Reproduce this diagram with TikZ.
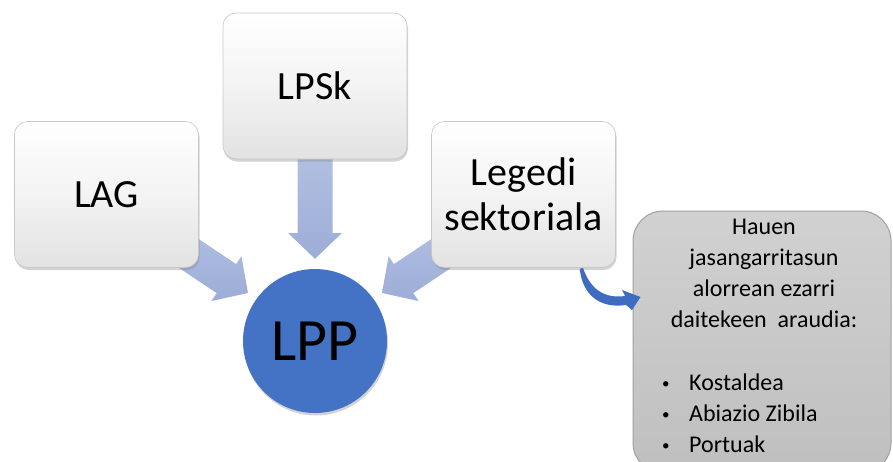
\documentclass[tikz,border=0pt]{standalone}
\usepackage{fontspec}
\setmainfont{Carlito}
\usetikzlibrary{shadows,arrows.meta,calc,backgrounds}
\definecolor{arrowtop}{HTML}{B3C0E2}
\definecolor{arrowbot}{HTML}{9CADD7}
\definecolor{boxedge}{HTML}{C8C8C8}
\definecolor{boxbottom}{HTML}{E2E2E2}
\definecolor{lppblue}{HTML}{4472C4}
\definecolor{curveblue}{HTML}{3D6CC0}
\definecolor{infofill}{HTML}{C9C9C9}
\definecolor{infoedge}{HTML}{A0A0A0}
\newcommand{\smallbullet}{\makebox[27pt][l]{\fontsize{15}{15}\selectfont\raisebox{2.2pt}{•}}}
\begin{document}
\begin{tikzpicture}[x=1pt,y=-1pt,
  srcbox/.style={draw=boxedge, line width=0.6pt, rounded corners=13pt,
    top color=white, bottom color=boxbottom, middle color=white!60!boxbottom,
    minimum width=184pt, minimum height=146pt, inner sep=0pt, align=center,
    font=\fontsize{40}{45}\selectfont,
    drop shadow={shadow xshift=1pt, shadow yshift=-2.5pt, opacity=0.35}},
  hub/.style={circle, fill=lppblue, minimum size=144pt, inner sep=0pt,
    font=\fontsize{60}{60}\selectfont,
    drop shadow={shadow xshift=1pt, shadow yshift=-2.5pt, opacity=0.35}},
  infobox/.style={draw=infoedge, line width=1pt, rounded corners=30pt,
    top color=infofill!85!white, bottom color=infofill!95!black,
    minimum width=258pt, minimum height=262pt, inner sep=0pt},
  infotext/.style={inner sep=0pt, font=\fontsize{24}{31}\selectfont},
  blockarrow/.style={top color=arrowtop, bottom color=arrowbot, draw=none},
  curvearrow/.style={fill=curveblue, draw=none}
]
\useasboundingbox (0,0) rectangle (893,461);

% source boxes and hub
\node[srcbox] (lag) at (106.5,194.5) {LAG};
\node[srcbox] (lpsk) at (315,86) {LPSk};
\node[srcbox] (leg) at (523.5,194.5) {Legedi\\sektoriala};
\node[hub] (lpp) at (315,341) {LPP};

% info box (clipped at the picture edge)
\begin{scope}
  \clip (0,0) rectangle (893,461);
  \node[infobox] (info) at (762,342) {};
\end{scope}
\node[infotext, anchor=north, align=center] (head) at (764,219)
  {Hauen\\jasangarritasun\\alorrean ezarri\\daitekeen\ \ araudia:};
\node[infotext, anchor=north west, align=left] (list) at (662,374)
  {\smallbullet Kostaldea\\\smallbullet Abiazio Zibila\\\smallbullet Portuak};

% block arrows behind the boxes
\begin{pgfonlayer}{background}
  % vertical arrow from LPSk to LPP
  \path[blockarrow]
    ($(lpsk.south)+(-17.5,-10)$) -- ($(lpsk.south)+(17.5,-10)$)
    -- (332.5,233) -- (342,233) -- ($(lpp.north)+(0,-10)$)
    -- (288,233) -- (297.5,233) -- cycle;
  % diagonal arrow from LAG to LPP
  \path[blockarrow]
    (169.7,219.7) -- (236.1,264.1) -- (241.4,256.2) -- (248,293)
    -- (211.4,301) -- (216.7,293.1) -- (150.3,248.7) -- cycle;
  % diagonal arrow from Legedi sektoriala to LPP
  \path[blockarrow]
    (460.3,219.7) -- (393.9,264.1) -- (388.6,256.2) -- (382,293)
    -- (418.6,301) -- (413.3,293.1) -- (479.7,248.7) -- cycle;
\end{pgfonlayer}

% tapered curved arrow from Legedi sektoriala to the info box
\coordinate (cstart) at ($(leg.south east)+(-36,1)$);
\coordinate (ctip) at ($(info.west)+(8,-45)$);
\path[curvearrow] (cstart) .. controls (582,293) and (598,309) .. (626,305)
  -- (632,310) -- (ctip) -- (622,290) -- (625,296)
  .. controls (603,299) and (590,288) .. (583,268) -- cycle;
\end{tikzpicture}
\end{document}
